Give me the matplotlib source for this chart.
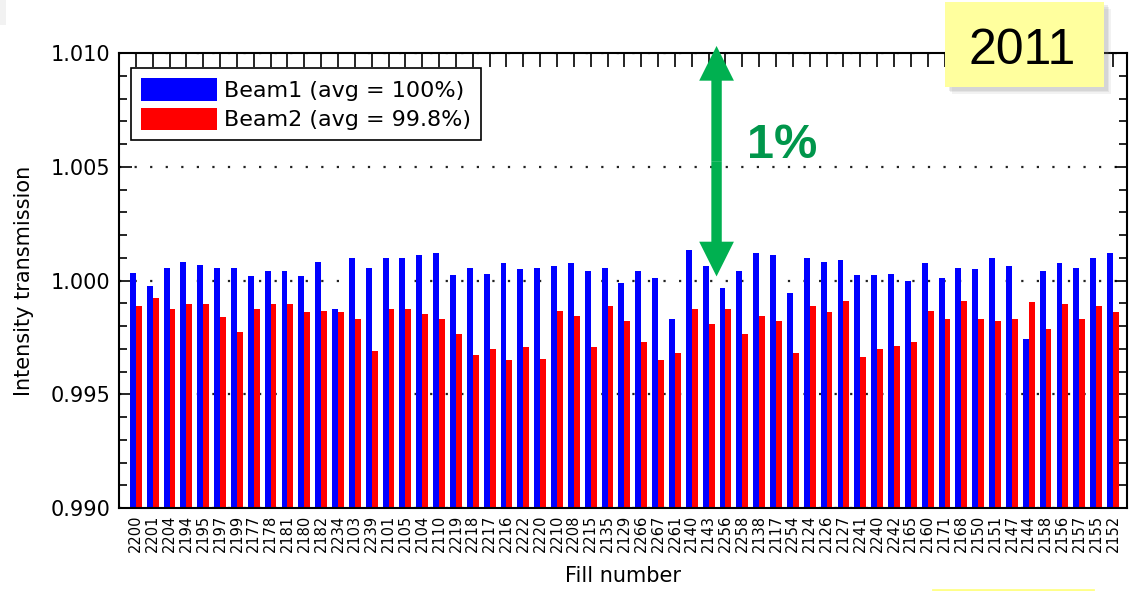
import numpy as np
import matplotlib
matplotlib.use('Agg')
from matplotlib import pyplot as plt
from matplotlib.patches import Rectangle
from matplotlib.lines import Line2D
from matplotlib.ticker import MultipleLocator, FormatStrFormatter

# fill numbers (in plotted order)
fills = ['2200', '2201', '2204', '2194', '2195', '2197', '2199', '2177', '2178', '2181',
         '2180', '2182', '2234', '2103', '2239', '2101', '2105', '2104', '2110', '2219',
         '2218', '2217', '2216', '2222', '2220', '2210', '2208', '2215', '2135', '2129',
         '2266', '2267', '2261', '2140', '2143', '2256', '2258', '2138', '2117', '2254',
         '2124', '2126', '2127', '2241', '2240', '2242', '2165', '2160', '2171', '2168',
         '2150', '2151', '2147', '2144', '2158', '2156', '2157', '2155', '2152']

# intensity transmission per fill
beam1 = [1.00035, 0.99975, 1.00057, 1.00080, 1.00070, 1.00057, 1.00057, 1.00020, 1.00040, 1.00040,
         1.00020, 1.00080, 0.99877, 1.00100, 1.00057, 1.00100, 1.00100, 1.00114, 1.00123, 1.00026,
         1.00057, 1.00030, 1.00075, 1.00050, 1.00057, 1.00066, 1.00075, 1.00040, 1.00057, 0.99991,
         1.00040, 1.00013, 0.99830, 1.00136, 1.00066, 0.99965, 1.00040, 1.00123, 1.00110, 0.99947,
         1.00097, 1.00080, 1.00088, 1.00026, 1.00026, 1.00030, 1.00000, 1.00075, 1.00010, 1.00057,
         1.00050, 1.00097, 1.00066, 0.99741, 1.00040, 1.00075, 1.00057, 1.00097, 1.00123]

beam2 = [0.99890, 0.99925, 0.99877, 0.99895, 0.99895, 0.99838, 0.99772, 0.99877, 0.99895, 0.99895,
         0.99860, 0.99868, 0.99860, 0.99833, 0.99689, 0.99877, 0.99877, 0.99851, 0.99833, 0.99763,
         0.99671, 0.99697, 0.99649, 0.99706, 0.99654, 0.99868, 0.99846, 0.99706, 0.99886, 0.99820,
         0.99728, 0.99649, 0.99680, 0.99877, 0.99811, 0.99877, 0.99763, 0.99846, 0.99820, 0.99680,
         0.99886, 0.99860, 0.99908, 0.99662, 0.99697, 0.99711, 0.99728, 0.99868, 0.99833, 0.99908,
         0.99829, 0.99820, 0.99829, 0.99904, 0.99785, 0.99895, 0.99833, 0.99886, 0.99860]

labels = ['Beam1 (avg = 100%)', 'Beam2 (avg = 99.8%)']

plt.rcParams['font.family'] = ['DejaVu Sans']

fig = plt.figure(figsize=(11.34, 5.91), dpi=100)
ax = fig.add_axes([0.1049, 0.1404, 0.8889, 0.7699])

x = np.arange(len(fills))
w = 0.35
ax.bar(x - w / 2, beam1, width=w, color='#0000ff', label=labels[0], zorder=2)
ax.bar(x + w / 2, beam2, width=w, color='#ff0000', label=labels[1], zorder=2)

ax.set_xlim(-1.0, len(fills) - 1 + 0.83)
ax.set_ylim(0.990, 1.010)

ax.set_xticks(x)
ax.set_xticklabels(fills, rotation=90, fontsize=10.5)
ax.yaxis.set_major_locator(MultipleLocator(0.005))
ax.yaxis.set_minor_locator(MultipleLocator(0.001))
ax.yaxis.set_major_formatter(FormatStrFormatter('%.3f'))

ax.tick_params(axis='x', direction='in', top=True, bottom=True, length=10, width=1.2, pad=5)
ax.tick_params(axis='y', which='major', direction='in', left=True, right=True, length=9, width=1.2,
               labelsize=15, pad=6)
ax.tick_params(axis='y', which='minor', direction='in', left=True, right=True, length=6, width=1.2)
for s in ax.spines.values():
    s.set_linewidth(1.5)

# dotted grid lines at the labelled levels
ax.set_axisbelow(True)
ax.yaxis.grid(True, which='major', color='#222222', linestyle=(0, (1, 6)), linewidth=1.6)

ax.set_ylabel('Intensity transmission', fontsize=15, labelpad=12)
ax.set_xlabel('Fill number', fontsize=15, labelpad=10)

leg = ax.legend(loc='upper left', bbox_to_anchor=(0.012, 0.967), borderaxespad=0,
                fontsize=16, handlelength=3.4, handleheight=1.2, labelspacing=0.3,
                handletextpad=0.35, borderpad=0.45, fancybox=False, framealpha=1)
leg.get_frame().set_edgecolor('black')
leg.get_frame().set_linewidth(1.2)

# green 1% double arrow
green = '#00b050'
xa = 34.47
ya_lo, ya_hi = 1.00018, 1.01031
ymid = (ya_lo + ya_hi) / 2
for yt in (ya_lo, ya_hi):
    ax.annotate('', xy=(xa, yt), xytext=(xa, ymid), annotation_clip=False,
                arrowprops=dict(arrowstyle='simple,head_length=1.0,head_width=1.0,tail_width=0.3',
                                mutation_scale=25, color=green, lw=0, shrinkA=0, shrinkB=0),
                zorder=5)
fig.text(747 / 1134, 1 - 158 / 591, '1%', fontsize=35, fontweight='bold', color='#00964b',
         family='Liberation Sans', ha='left', va='baseline')

# yellow "2011" box with a soft shadow
for i, a in enumerate([0.10, 0.12, 0.15]):
    d = (3 - i) * 1.5
    fig.add_artist(Rectangle(((945 + 2 + d) / 1134, (591 - 87 - 2 - d) / 591), 159 / 1134, 85 / 591,
                             transform=fig.transFigure, facecolor='#808080', alpha=a, lw=0, zorder=8))
fig.add_artist(Rectangle((945 / 1134, (591 - 87) / 591), 159 / 1134, 85 / 591,
                         transform=fig.transFigure, facecolor='#ffff9e', edgecolor='none', zorder=9))
fig.text(1022 / 1134, 1 - 64 / 591, '2011', fontsize=36, family='Liberation Sans',
         ha='center', va='baseline', zorder=10)

# leftover bits of the slide
fig.add_artist(Line2D([933 / 1134, 1093 / 1134], [1.5 / 591, 1.5 / 591], transform=fig.transFigure,
                      color='#ffff88', lw=2))
fig.add_artist(Rectangle((0, 1 - 25 / 591), 6 / 1134, 25 / 591, transform=fig.transFigure,
                         facecolor='#f2f2f2', lw=0))

fig.savefig('out.png', dpi=100)
